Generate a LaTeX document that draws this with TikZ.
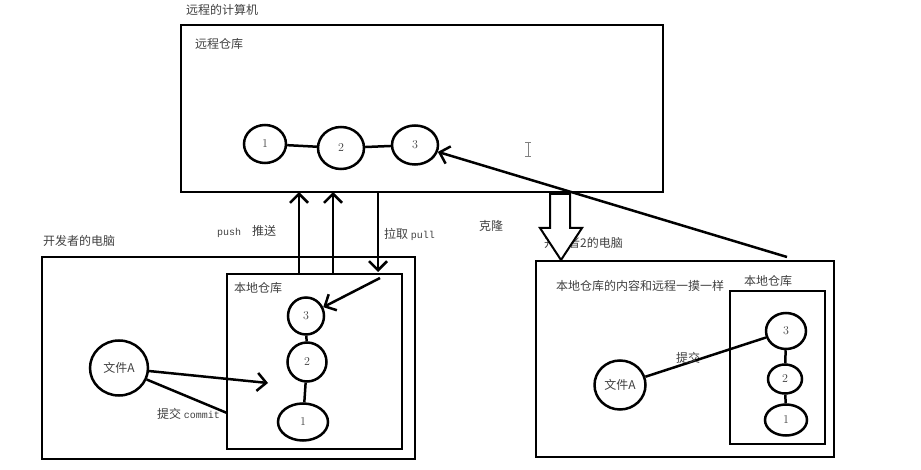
\documentclass[tikz,border=0pt]{standalone}
\usepackage{fontspec}
\newfontfamily\cjk{Noto Sans CJK SC}
\newfontfamily\monofnt{Liberation Mono}
\newcommand\entxt[1]{{\fontsize{10}{12}\selectfont\monofnt #1}}
\usetikzlibrary{shapes.geometric, arrows.meta}

\begin{document}
\begin{tikzpicture}[x=1pt, y=-1pt, >={Straight Barb[length=9pt,width=18pt]},
    box/.style={draw, line width=2.5pt, inner sep=0pt, outer sep=0pt},
    commit/.style={draw, ellipse, line width=2.5pt, inner sep=0pt, text=black!75,
        font=\fontsize{12}{14}\selectfont},
    lbl/.style={anchor=west, inner sep=0pt, text=black!75, font=\fontsize{12}{14}\selectfont\cjk},
    link/.style={line width=2.5pt}]
    \useasboundingbox (0,0) rectangle (921,470);

    % 远程的计算机
    \node[lbl] (remotetitle) at (186,10) {远程的计算机};
    \node[box, minimum width=482pt, minimum height=167pt] (remote) at (422,108.5) {};
    \node[lbl] (remotelbl) at (195,44) {远程仓库};
    \node[commit, minimum width=42pt, minimum height=38pt] (r1) at (265,144) {1};
    \node[commit, minimum width=46pt, minimum height=42pt] (r2) at (341,148) {2};
    \node[commit, minimum width=46pt, minimum height=39pt] (r3) at (415,145) {3};
    \draw[link] (r1) -- (r2);
    \draw[link] (r2) -- (r3);
    \draw[gray, line width=0.8pt] (528,142) -- (528,156) (525,142) -- (531,142) (525,156) -- (531,156);

    % 开发者的电脑
    \node[lbl] (devtitle) at (43,241) {开发者的电脑};
    \node[box, minimum width=373pt, minimum height=202pt] (dev) at (228.5,358) {};
    \node[box, minimum width=175pt, minimum height=175pt] (lrepo) at (314.5,361.5) {};
    \node[lbl] (lrepolbl) at (234,288) {本地仓库};
    \node[commit, minimum width=36pt, minimum height=37pt] (l3) at (306,316) {3};
    \node[commit, minimum width=39pt, minimum height=39pt] (l2) at (307,362) {2};
    \node[commit, minimum width=50pt, minimum height=37pt] (l1) at (303,422) {1};
    \draw[link] (l3) -- (l2);
    \draw[link] (l2) -- (l1);
    \node[commit, minimum width=58pt, minimum height=55pt, font=\fontsize{12}{14}\selectfont\cjk] (fa) at (119,368) {文件A};
    \coordinate (cm) at (268,383);
    \coordinate (cmlow) at (0,413);
    \draw[link,->] (fa) -- (cm);
    \draw[link] (fa) -- (lrepo.west |- cmlow);
    \node[lbl] (commitlbl) at (157,414) {提交 \entxt{commit}};

    % push / pull
    \coordinate (p1) at (299,0);
    \coordinate (p2) at (333,0);
    \coordinate (p3) at (378,0);
    \draw[link,->] (lrepo.north -| p1) -- (remote.south -| p1);
    \draw[link,->] (lrepo.north -| p2) -- (remote.south -| p2);
    \draw[link,->,shorten >=2pt] (remote.south -| p3) -- (lrepo.north -| p3);
    \coordinate (pullstart) at (380,278);
    \draw[link,->] (pullstart) -- (l3);
    \node[lbl] (pushlbl) at (217,231) {\entxt{push}\hspace{11pt}推送};
    \node[lbl] (pulllbl) at (384,234) {拉取 \entxt{pull}};

    % 开发者2的电脑
    \node[lbl] (dev2title) at (544,243) {开发者2的电脑};
    \node[lbl] (clonelbl) at (479,226) {克隆};
    \node[box, minimum width=298pt, minimum height=196pt] (dev2) at (685,359) {};
    \node[lbl] (samelbl) at (556,286) {本地仓库的内容和远程一摸一样};
    \node[box, minimum width=95pt, minimum height=153pt] (drepo) at (777.5,367.5) {};
    \node[lbl] (drepolbl) at (744,281) {本地仓库};
    \node[commit, minimum width=40pt, minimum height=36pt] (d3) at (786,331) {3};
    \node[commit, minimum width=34pt, minimum height=29pt] (d2) at (785,379) {2};
    \node[commit, minimum width=42pt, minimum height=31pt] (d1) at (786,420) {1};
    \draw[link] (d3) -- (d2);
    \draw[link] (d2) -- (d1);
    \node[commit, minimum width=51pt, minimum height=49pt, font=\fontsize{12}{14}\selectfont\cjk] (fb) at (620,385) {文件A};
    \draw[link] (fb) -- (d3);
    \node[lbl] (commit2lbl) at (676,358) {提交};

    % 克隆
    \draw[line width=2pt, fill=white] (550,194) -- (550,228) -- (540,228) -- (561,260)
        -- (582,228) -- (570,228) -- (570,194) -- cycle;
    \coordinate (clonestart) at (787,257);
    \draw[link,->] (clonestart) -- (r3);
\end{tikzpicture}
\end{document}
